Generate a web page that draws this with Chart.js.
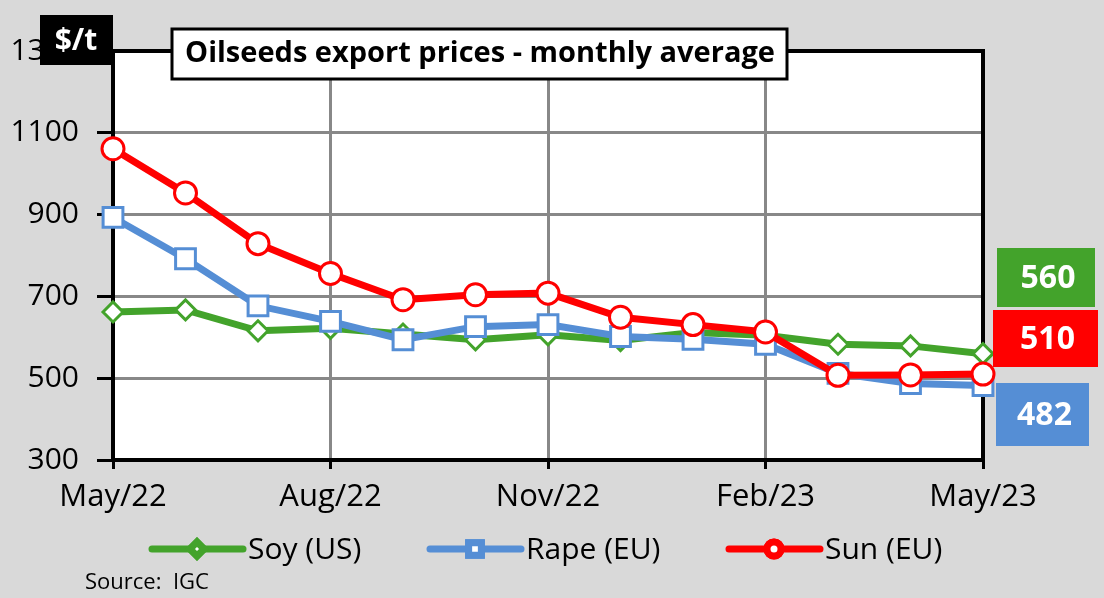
<!DOCTYPE html>
<html>
<head>
<meta charset="utf-8">
<title>Oilseeds export prices - monthly average</title>
<script src="https://cdn.jsdelivr.net/npm/chart.js@4.4.1/dist/chart.umd.min.js"></script>
<style>
  html, body { margin: 0; padding: 0; background: #d9d9d9; }
  #wrap { width: 1104px; height: 598px; position: relative; }
</style>
</head>
<body>
<div id="wrap"><canvas id="chart" width="1104" height="598"></canvas></div>
<script>
// monthly averages, $/t
const months = ['May/22', 'Jun/22', 'Jul/22', 'Aug/22', 'Sep/22', 'Oct/22', 'Nov/22',
                'Dec/22', 'Jan/23', 'Feb/23', 'Mar/23', 'Apr/23', 'May/23'];
const soyUS  = [662, 667, 616, 622, 608, 594, 606, 592, 612, 605, 583, 579, 560];
const rapeEU = [893, 792, 677, 639, 594, 626, 631, 602, 595, 583, 512, 487, 482];
const sunEU  = [1061, 953, 829, 756, 692, 704, 708, 649, 631, 613, 507, 508, 510];
const yTicks = [300, 500, 700, 900, 1100, 1300];

const FONT = '"Open Sans", "Noto Sans", sans-serif';
const GREEN = '#43a32b';
const BLUE = '#558ed5';
const RED = '#ff0000';

(function () {
  // frame, title, unit box, end-value boxes, legend and source
  const decor = {
    id: 'decor',
    beforeDraw(chart) {
      const { ctx, chartArea: a } = chart;
      ctx.save();
      ctx.fillStyle = '#d9d9d9';
      ctx.fillRect(0, 0, chart.width, chart.height);
      ctx.fillStyle = '#fff';
      ctx.fillRect(a.left, a.top, a.right - a.left, a.bottom - a.top);
      ctx.restore();
    },
    beforeDatasetsDraw(chart) {
      const { ctx, chartArea: a } = chart;
      ctx.save();
      ctx.strokeStyle = '#000';
      ctx.lineWidth = 4;
      ctx.beginPath();
      ctx.moveTo(a.left, a.top);
      ctx.lineTo(a.right, a.top);
      ctx.lineTo(a.right, a.bottom);
      ctx.stroke();
      ctx.restore();
    },
    afterDraw(chart) {
      const { ctx, chartArea: a } = chart;
      ctx.save();

      // unit box
      ctx.fillStyle = '#000';
      ctx.fillRect(40, 15, a.left - 40, 50);
      ctx.fillStyle = '#fff';
      ctx.font = 'bold 30px ' + FONT;
      ctx.textAlign = 'center';
      ctx.textBaseline = 'middle';
      ctx.fillText('$/t', 76, 41);

      // title box
      ctx.fillStyle = '#fff';
      ctx.fillRect(172, 29, 615, 50);
      ctx.strokeStyle = '#000';
      ctx.lineWidth = 3;
      ctx.strokeRect(172, 29, 615, 50);
      ctx.fillStyle = '#000';
      ctx.font = 'bold 29px ' + FONT;
      ctx.fillText('Oilseeds export prices - monthly average', 480, 54);

      // latest values
      const last = months.length - 1;
      const boxes = [
        { v: soyUS[last],  c: GREEN, x: a.right + 14, y: 248, w: 98,  h: 59 },
        { v: sunEU[last],  c: RED,   x: a.right + 10, y: 310, w: 105, h: 57 },
        { v: rapeEU[last], c: BLUE,  x: a.right + 13, y: 383, w: 93,  h: 63 }
      ];
      ctx.font = 'bold 32px ' + FONT;
      for (const b of boxes) {
        ctx.fillStyle = b.c;
        ctx.fillRect(b.x, b.y, b.w, b.h);
        ctx.fillStyle = '#fff';
        ctx.fillText(String(b.v), b.x + b.w / 2 + 2, b.y + b.h / 2 + 1);
      }

      // legend
      const items = [
        { ds: 0, x: 152 },
        { ds: 1, x: 430 },
        { ds: 2, x: 729 }
      ];
      const ly = 549;
      ctx.textAlign = 'left';
      ctx.font = '30px ' + FONT;
      for (const it of items) {
        const ds = chart.data.datasets[it.ds];
        ctx.strokeStyle = ds.borderColor;
        ctx.lineWidth = 7;
        ctx.lineCap = 'round';
        ctx.beginPath();
        ctx.moveTo(it.x, ly);
        ctx.lineTo(it.x + 91, ly);
        ctx.stroke();
        Chart.helpers.drawPoint(ctx, {
          pointStyle: ds.pointStyle,
          radius: ds.pointStyle === 'rect' ? 9 : 7,
          borderWidth: 3
        }, it.x + 45, ly);
        ctx.fillStyle = '#fff';
        ctx.fill();
        ctx.stroke();
        ctx.fillStyle = '#000';
        ctx.fillText(ds.label, it.x + 96, ly + 1);
      }

      // source
      ctx.font = '22px ' + FONT;
      ctx.fillText('Source:  IGC', 85, 583);
      ctx.restore();
    }
  };

  function series(label, data, color, style, radius, order) {
    return {
      label,
      data,
      borderColor: color,
      backgroundColor: '#fff',
      borderWidth: 7,
      pointStyle: style,
      pointRadius: radius,
      pointBorderWidth: 3,
      pointBorderColor: color,
      pointBackgroundColor: '#fff',
      tension: 0,
      order
    };
  }

  const canvas = document.getElementById('chart');
  new Chart(canvas.getContext('2d'), {
    type: 'line',
    data: {
      labels: months,
      datasets: [
        series('Soy (US)', soyUS, GREEN, 'rectRot', 10, 2),
        series('Rape (EU)', rapeEU, BLUE, 'rect', 14, 1),
        series('Sun (EU)', sunEU, RED, 'circle', 11, 0)
      ]
    },
    options: {
      responsive: false,
      animation: false,
      devicePixelRatio: 1,
      layout: { padding: { top: 51, right: 121, left: 0, bottom: 0 } },
      plugins: { legend: { display: false }, tooltip: { enabled: false } },
      scales: {
        x: {
          afterFit: s => { s.height = 138; },
          border: { color: '#000', width: 4 },
          grid: {
            color: c => (c.index % 3 === 0 ? '#888' : 'rgba(0,0,0,0)'),
            tickColor: c => (c.index % 3 === 0 ? '#000' : 'rgba(0,0,0,0)'),
            lineWidth: 3,
            tickWidth: 3,
            tickLength: 9
          },
          ticks: {
            autoSkip: false,
            maxRotation: 0,
            padding: 10,
            color: '#000',
            font: { family: FONT, size: 31 },
            callback: (v, i) => (i % 3 === 0 ? months[i] : '')
          }
        },
        y: {
          min: yTicks[0],
          max: yTicks[yTicks.length - 1],
          afterFit: s => { s.width = 113; },
          afterBuildTicks: s => { s.ticks = yTicks.map(v => ({ value: v })); },
          border: { color: '#000', width: 4 },
          grid: {
            color: '#888',
            tickColor: '#000',
            lineWidth: 3,
            tickWidth: 3,
            tickLength: 16
          },
          ticks: {
            padding: 18,
            color: '#000',
            font: { family: FONT, size: 30 },
            callback: v => String(v)
          }
        }
      }
    },
    plugins: [decor]
  });
})();
</script>
</body>
</html>
